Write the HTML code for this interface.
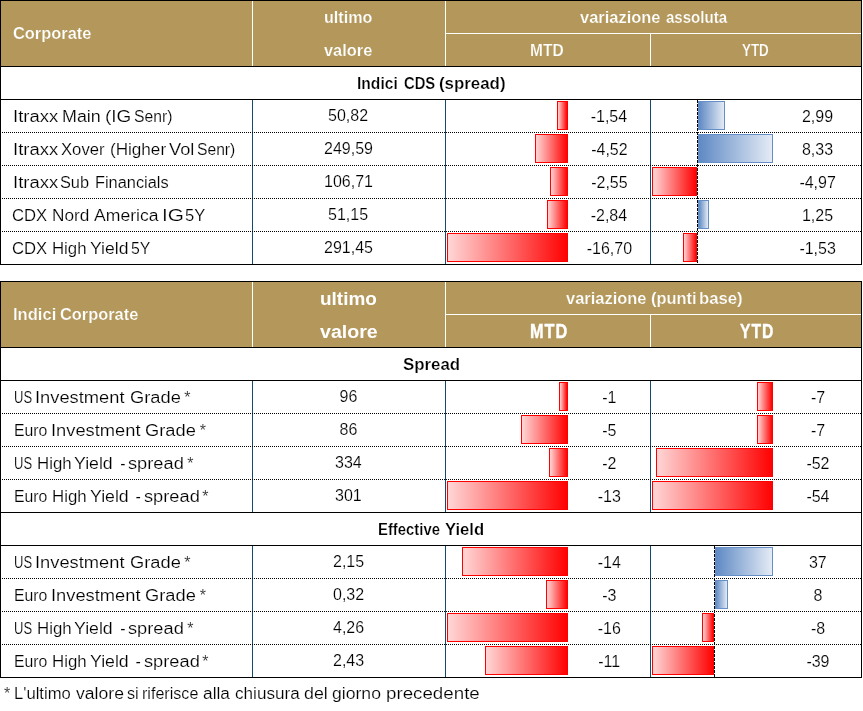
<!DOCTYPE html>
<html lang="it"><head><meta charset="utf-8"><title>Corporate</title>
<style>
html,body{margin:0;padding:0;background:#fff;}
body{width:863px;height:711px;position:relative;overflow:hidden;font-family:"Liberation Sans",sans-serif;}
#s div{position:absolute;}
.hd{height:1px;background:repeating-linear-gradient(90deg,#000 0 1px,transparent 1px 2px);}
.vd{width:1px;background:repeating-linear-gradient(180deg,#000 0 3px,transparent 3px 4px);}
.b{height:27px;border:1px solid;box-sizing:content-box;}
.r{border-color:#ff0000;background:linear-gradient(90deg,#ffd6d6,#ff0202);}
.bl{border-color:#668fc7;background:linear-gradient(90deg,#5f8ac4,#e4ebf5);}
.t{position:absolute;white-space:pre;line-height:30px;color:#000;transform-origin:0 0;}
.n{-webkit-text-stroke:0.18px #fff;}
.bw{-webkit-text-stroke:0.22px #fff;}
.hv{-webkit-text-stroke:0.4px #fff;}
.bg{-webkit-text-stroke:0.22px #b3975b;}
</style></head><body>
<div id="s">
<div style="left:0px;top:0px;width:862px;height:67px;background:#000;"></div>
<div style="left:1px;top:1px;width:860px;height:65px;background:#b3975b;"></div>
<div style="left:252px;top:1px;width:1px;height:65px;background:#fff;"></div>
<div style="left:445px;top:1px;width:1px;height:65px;background:#fff;"></div>
<div style="left:650px;top:33px;width:1px;height:33px;background:#fff;"></div>
<div style="left:446px;top:33px;width:415px;height:1px;background:#fff;"></div>
<div style="left:0px;top:0px;width:1px;height:265px;background:#000;"></div>
<div style="left:861px;top:0px;width:1px;height:265px;background:#000;"></div>
<div style="left:0px;top:264px;width:862px;height:1px;background:#000;"></div>
<div style="left:0px;top:99px;width:862px;height:1px;background:#000;"></div>
<div style="left:252px;top:100px;width:1px;height:164px;background:#134a70;"></div>
<div style="left:445px;top:100px;width:1px;height:164px;background:#134a70;"></div>
<div style="left:650px;top:100px;width:1px;height:164px;background:#134a70;"></div>
<div class="hd" style="left:2px;top:132px;width:859px"></div>
<div class="hd" style="left:2px;top:165px;width:859px"></div>
<div class="hd" style="left:2px;top:198px;width:859px"></div>
<div class="hd" style="left:2px;top:231px;width:859px"></div>
<div class="vd" style="left:697px;top:100px;height:164px"></div>
<div class="b r" style="left:557px;top:101px;width:9px"></div>
<div class="b r" style="left:535px;top:134px;width:31px"></div>
<div class="b r" style="left:550px;top:167px;width:16px"></div>
<div class="b r" style="left:547px;top:200px;width:19px"></div>
<div class="b r" style="left:447px;top:233px;width:119px"></div>
<div class="b bl" style="left:698px;top:101px;width:25px"></div>
<div class="b bl" style="left:698px;top:134px;width:73px"></div>
<div class="b r" style="left:652px;top:167px;width:43px"></div>
<div class="b bl" style="left:698px;top:200px;width:9px"></div>
<div class="b r" style="left:683px;top:233px;width:12px"></div>
<div style="left:0px;top:281px;width:862px;height:67px;background:#000;"></div>
<div style="left:1px;top:282px;width:860px;height:65px;background:#b3975b;"></div>
<div style="left:252px;top:282px;width:1px;height:65px;background:#fff;"></div>
<div style="left:445px;top:282px;width:1px;height:65px;background:#fff;"></div>
<div style="left:650px;top:314px;width:1px;height:33px;background:#fff;"></div>
<div style="left:446px;top:314px;width:415px;height:1px;background:#fff;"></div>
<div style="left:0px;top:281px;width:1px;height:397px;background:#000;"></div>
<div style="left:861px;top:281px;width:1px;height:397px;background:#000;"></div>
<div style="left:0px;top:677px;width:862px;height:1px;background:#000;"></div>
<div style="left:0px;top:380px;width:862px;height:1px;background:#000;"></div>
<div style="left:0px;top:512px;width:862px;height:1px;background:#000;"></div>
<div style="left:0px;top:545px;width:862px;height:1px;background:#000;"></div>
<div style="left:252px;top:381px;width:1px;height:131px;background:#134a70;"></div>
<div style="left:252px;top:546px;width:1px;height:131px;background:#134a70;"></div>
<div style="left:445px;top:381px;width:1px;height:131px;background:#134a70;"></div>
<div style="left:445px;top:546px;width:1px;height:131px;background:#134a70;"></div>
<div style="left:650px;top:381px;width:1px;height:131px;background:#134a70;"></div>
<div style="left:650px;top:546px;width:1px;height:131px;background:#134a70;"></div>
<div class="hd" style="left:2px;top:413px;width:859px"></div>
<div class="hd" style="left:2px;top:446px;width:859px"></div>
<div class="hd" style="left:2px;top:479px;width:859px"></div>
<div class="hd" style="left:2px;top:578px;width:859px"></div>
<div class="hd" style="left:2px;top:611px;width:859px"></div>
<div class="hd" style="left:2px;top:644px;width:859px"></div>
<div class="b r" style="left:559px;top:382px;width:7px"></div>
<div class="b r" style="left:521px;top:415px;width:45px"></div>
<div class="b r" style="left:549px;top:448px;width:17px"></div>
<div class="b r" style="left:447px;top:481px;width:119px"></div>
<div class="b r" style="left:757px;top:382px;width:14px"></div>
<div class="b r" style="left:757px;top:415px;width:14px"></div>
<div class="b r" style="left:656px;top:448px;width:115px"></div>
<div class="b r" style="left:652px;top:481px;width:119px"></div>
<div class="b r" style="left:462px;top:547px;width:104px"></div>
<div class="b r" style="left:546px;top:580px;width:20px"></div>
<div class="b r" style="left:447px;top:613px;width:119px"></div>
<div class="b r" style="left:485px;top:646px;width:81px"></div>
<div class="vd" style="left:714px;top:546px;height:131px"></div>
<div class="b bl" style="left:715px;top:547px;width:56px"></div>
<div class="b bl" style="left:715px;top:580px;width:11px"></div>
<div class="b r" style="left:702px;top:613px;width:10px"></div>
<div class="b r" style="left:652px;top:646px;width:60px"></div>
</div>
<span class="t bg" style="left:13.0px;top:19px;font-size:16px;font-weight:700;transform:scaleX(1.025);color:#fff;">Corporate</span>
<span class="t bg" style="left:324.2px;top:3px;font-size:16px;font-weight:700;transform:scaleX(1.009);color:#fff;">ultimo</span>
<span class="t bg" style="left:324.2px;top:36px;font-size:16px;font-weight:700;transform:scaleX(1.024);color:#fff;">valore</span>
<span class="t bg" style="left:579.6px;top:3px;font-size:16px;font-weight:700;transform:scaleX(1.028);color:#fff;">variazione </span>
<span class="t bg" style="left:665.7px;top:3px;font-size:16px;font-weight:700;transform:scaleX(0.941);color:#fff;">assoluta</span>
<span class="t bg" style="left:530.4px;top:36px;font-size:16px;font-weight:700;transform:scaleX(0.970);color:#fff;">MTD</span>
<span class="t bg" style="left:742.3px;top:36px;font-size:16px;font-weight:700;transform:scaleX(0.835);color:#fff;">YTD</span>
<span class="t bw" style="left:356.6px;top:69px;font-size:16px;font-weight:700;transform:scaleX(0.975);">Indici </span>
<span class="t bw" style="left:403.7px;top:69px;font-size:16px;font-weight:700;transform:scaleX(0.922);">CDS </span>
<span class="t bw" style="left:439.3px;top:69px;font-size:16px;font-weight:700;transform:scaleX(1.054);">(spread)</span>
<span class="t n" style="left:13.0px;top:102px;font-size:16px;transform:scaleX(1.154);">Itraxx </span>
<span class="t n" style="left:61.9px;top:102px;font-size:16px;transform:scaleX(1.118);">Main </span>
<span class="t n" style="left:105.0px;top:102px;font-size:16px;transform:scaleX(1.185);">(IG </span>
<span class="t n" style="left:133.8px;top:102px;font-size:16px;transform:scaleX(0.981);">Senr)</span>
<span class="t n" style="left:328.0px;top:101px;font-size:16px;">50,82</span>
<span class="t n" style="left:590.7px;top:102px;font-size:16px;">-1,54</span>
<span class="t n" style="left:801.9px;top:102px;font-size:16px;">2,99</span>
<span class="t n" style="left:13.0px;top:135px;font-size:16px;transform:scaleX(1.154);">Itraxx </span>
<span class="t n" style="left:60.8px;top:135px;font-size:16px;transform:scaleX(1.042);">Xover </span>
<span class="t n" style="left:109.9px;top:135px;font-size:16px;transform:scaleX(1.069);">(Higher </span>
<span class="t n" style="left:169.2px;top:135px;font-size:16px;transform:scaleX(1.139);">Vol </span>
<span class="t n" style="left:196.8px;top:135px;font-size:16px;transform:scaleX(0.979);">Senr)</span>
<span class="t n" style="left:324.0px;top:134px;font-size:16px;">249,59</span>
<span class="t n" style="left:591.2px;top:135px;font-size:16px;">-4,52</span>
<span class="t n" style="left:801.9px;top:135px;font-size:16px;">8,33</span>
<span class="t n" style="left:13.0px;top:168px;font-size:16px;transform:scaleX(1.154);">Itraxx </span>
<span class="t n" style="left:60.4px;top:168px;font-size:16px;transform:scaleX(1.019);">Sub </span>
<span class="t n" style="left:95.2px;top:168px;font-size:16px;transform:scaleX(1.022);">Financials</span>
<span class="t n" style="left:324.0px;top:167px;font-size:16px;">106,71</span>
<span class="t n" style="left:591.2px;top:168px;font-size:16px;">-2,55</span>
<span class="t n" style="left:799.4px;top:168px;font-size:16px;">-4,97</span>
<span class="t n" style="left:12.4px;top:201px;font-size:16px;transform:scaleX(1.041);">CDX </span>
<span class="t n" style="left:51.7px;top:201px;font-size:16px;transform:scaleX(1.076);">Nord </span>
<span class="t n" style="left:93.8px;top:201px;font-size:16px;transform:scaleX(1.100);">America </span>
<span class="t n" style="left:162.4px;top:201px;font-size:16px;transform:scaleX(1.301);">IG </span>
<span class="t n" style="left:185.4px;top:201px;font-size:16px;transform:scaleX(1.034);">5Y</span>
<span class="t n" style="left:328.0px;top:200px;font-size:16px;">51,15</span>
<span class="t n" style="left:590.7px;top:201px;font-size:16px;">-2,84</span>
<span class="t n" style="left:801.9px;top:201px;font-size:16px;">1,25</span>
<span class="t n" style="left:12.4px;top:234px;font-size:16px;transform:scaleX(1.041);">CDX </span>
<span class="t n" style="left:51.7px;top:234px;font-size:16px;transform:scaleX(1.049);">High </span>
<span class="t n" style="left:89.7px;top:234px;font-size:16px;transform:scaleX(1.100);">Yield </span>
<span class="t n" style="left:130.6px;top:234px;font-size:16px;transform:scaleX(0.990);">5Y</span>
<span class="t n" style="left:324.0px;top:233px;font-size:16px;">291,45</span>
<span class="t n" style="left:586.7px;top:234px;font-size:16px;">-16,70</span>
<span class="t n" style="left:799.4px;top:234px;font-size:16px;">-1,53</span>
<span class="t bg" style="left:13.2px;top:300px;font-size:16px;font-weight:700;transform:scaleX(1.035);color:#fff;">Indici </span>
<span class="t bg" style="left:59.8px;top:300px;font-size:16px;font-weight:700;transform:scaleX(1.024);color:#fff;">Corporate</span>
<span class="t" style="left:320.4px;top:284px;font-size:18.67px;font-weight:700;transform:scaleX(1.017);color:#fff;">ultimo</span>
<span class="t" style="left:320.0px;top:317px;font-size:18.67px;font-weight:700;transform:scaleX(1.050);color:#fff;">valore</span>
<span class="t bg" style="left:565.6px;top:284px;font-size:16px;font-weight:700;transform:scaleX(1.028);color:#fff;">variazione </span>
<span class="t bg" style="left:650.6px;top:284px;font-size:16px;font-weight:700;transform:scaleX(1.024);color:#fff;">(punti </span>
<span class="t bg" style="left:699.0px;top:284px;font-size:16px;font-weight:700;transform:scaleX(1.045);color:#fff;">base)</span>
<span class="t hv" style="left:529.6px;top:316px;font-size:19.5px;font-weight:700;letter-spacing:1.20px;transform:scaleX(0.837);color:#fff;">MTD</span>
<span class="t hv" style="left:740.0px;top:316px;font-size:19.5px;font-weight:700;letter-spacing:1.20px;transform:scaleX(0.805);color:#fff;">YTD</span>
<span class="t bw" style="left:402.5px;top:350px;font-size:16px;font-weight:700;transform:scaleX(1.054);">Spread</span>
<span class="t bw" style="left:378.1px;top:515px;font-size:16px;font-weight:700;transform:scaleX(0.928);">Effective </span>
<span class="t bw" style="left:444.8px;top:515px;font-size:16px;font-weight:700;transform:scaleX(1.040);">Yield</span>
<span class="t n" style="left:14.2px;top:383px;font-size:16px;transform:scaleX(0.812);">US </span>
<span class="t n" style="left:35.1px;top:383px;font-size:16px;transform:scaleX(1.144);">Investment </span>
<span class="t n" style="left:129.6px;top:383px;font-size:16px;transform:scaleX(1.144);">Grade </span>
<span class="t n" style="left:184.3px;top:383px;font-size:16px;">*</span>
<span class="t n" style="left:339.5px;top:382px;font-size:16px;">96</span>
<span class="t n" style="left:602.2px;top:383px;font-size:16px;">-1</span>
<span class="t n" style="left:810.9px;top:383px;font-size:16px;">-7</span>
<span class="t n" style="left:14.0px;top:416px;font-size:16px;transform:scaleX(0.989);">Euro </span>
<span class="t n" style="left:50.5px;top:416px;font-size:16px;transform:scaleX(1.144);">Investment </span>
<span class="t n" style="left:145.0px;top:416px;font-size:16px;transform:scaleX(1.144);">Grade </span>
<span class="t n" style="left:199.7px;top:416px;font-size:16px;">*</span>
<span class="t n" style="left:339.5px;top:415px;font-size:16px;">86</span>
<span class="t n" style="left:602.2px;top:416px;font-size:16px;">-5</span>
<span class="t n" style="left:810.9px;top:416px;font-size:16px;">-7</span>
<span class="t n" style="left:14.2px;top:449px;font-size:16px;transform:scaleX(0.812);">US </span>
<span class="t n" style="left:37.1px;top:449px;font-size:16px;transform:scaleX(1.052);">High </span>
<span class="t n" style="left:74.3px;top:449px;font-size:16px;transform:scaleX(1.106);">Yield  </span>
<span class="t n" style="left:120.2px;top:449px;font-size:16px;">- </span>
<span class="t n" style="left:128.3px;top:449px;font-size:16px;transform:scaleX(1.140);">spread </span>
<span class="t n" style="left:187.3px;top:449px;font-size:16px;">*</span>
<span class="t n" style="left:335.0px;top:448px;font-size:16px;">334</span>
<span class="t n" style="left:602.2px;top:449px;font-size:16px;">-2</span>
<span class="t n" style="left:806.4px;top:449px;font-size:16px;">-52</span>
<span class="t n" style="left:14.0px;top:482px;font-size:16px;transform:scaleX(0.989);">Euro </span>
<span class="t n" style="left:51.5px;top:482px;font-size:16px;transform:scaleX(1.052);">High </span>
<span class="t n" style="left:89.7px;top:482px;font-size:16px;transform:scaleX(1.106);">Yield  </span>
<span class="t n" style="left:135.6px;top:482px;font-size:16px;">- </span>
<span class="t n" style="left:143.7px;top:482px;font-size:16px;transform:scaleX(1.140);">spread </span>
<span class="t n" style="left:202.2px;top:482px;font-size:16px;">*</span>
<span class="t n" style="left:335.0px;top:481px;font-size:16px;">301</span>
<span class="t n" style="left:597.7px;top:482px;font-size:16px;">-13</span>
<span class="t n" style="left:806.4px;top:482px;font-size:16px;">-54</span>
<span class="t n" style="left:14.2px;top:548px;font-size:16px;transform:scaleX(0.812);">US </span>
<span class="t n" style="left:35.1px;top:548px;font-size:16px;transform:scaleX(1.144);">Investment </span>
<span class="t n" style="left:129.6px;top:548px;font-size:16px;transform:scaleX(1.144);">Grade </span>
<span class="t n" style="left:184.3px;top:548px;font-size:16px;">*</span>
<span class="t n" style="left:333.0px;top:547px;font-size:16px;">2,15</span>
<span class="t n" style="left:597.7px;top:548px;font-size:16px;">-14</span>
<span class="t n" style="left:808.9px;top:548px;font-size:16px;">37</span>
<span class="t n" style="left:14.0px;top:581px;font-size:16px;transform:scaleX(0.989);">Euro </span>
<span class="t n" style="left:50.5px;top:581px;font-size:16px;transform:scaleX(1.144);">Investment </span>
<span class="t n" style="left:145.0px;top:581px;font-size:16px;transform:scaleX(1.144);">Grade </span>
<span class="t n" style="left:199.7px;top:581px;font-size:16px;">*</span>
<span class="t n" style="left:333.0px;top:580px;font-size:16px;">0,32</span>
<span class="t n" style="left:602.2px;top:581px;font-size:16px;">-3</span>
<span class="t n" style="left:813.4px;top:581px;font-size:16px;">8</span>
<span class="t n" style="left:14.2px;top:614px;font-size:16px;transform:scaleX(0.812);">US </span>
<span class="t n" style="left:37.1px;top:614px;font-size:16px;transform:scaleX(1.052);">High </span>
<span class="t n" style="left:74.3px;top:614px;font-size:16px;transform:scaleX(1.106);">Yield  </span>
<span class="t n" style="left:120.2px;top:614px;font-size:16px;">- </span>
<span class="t n" style="left:128.3px;top:614px;font-size:16px;transform:scaleX(1.140);">spread </span>
<span class="t n" style="left:187.3px;top:614px;font-size:16px;">*</span>
<span class="t n" style="left:333.0px;top:613px;font-size:16px;">4,26</span>
<span class="t n" style="left:597.7px;top:614px;font-size:16px;">-16</span>
<span class="t n" style="left:810.9px;top:614px;font-size:16px;">-8</span>
<span class="t n" style="left:14.0px;top:647px;font-size:16px;transform:scaleX(0.989);">Euro </span>
<span class="t n" style="left:51.5px;top:647px;font-size:16px;transform:scaleX(1.052);">High </span>
<span class="t n" style="left:89.7px;top:647px;font-size:16px;transform:scaleX(1.106);">Yield  </span>
<span class="t n" style="left:135.6px;top:647px;font-size:16px;">- </span>
<span class="t n" style="left:143.7px;top:647px;font-size:16px;transform:scaleX(1.140);">spread </span>
<span class="t n" style="left:202.2px;top:647px;font-size:16px;">*</span>
<span class="t n" style="left:333.0px;top:646px;font-size:16px;">2,43</span>
<span class="t n" style="left:598.2px;top:647px;font-size:16px;">-11</span>
<span class="t n" style="left:806.4px;top:647px;font-size:16px;">-39</span>
<span class="t n" style="left:4.0px;top:679px;font-size:16px;">* </span>
<span class="t n" style="left:14.4px;top:679px;font-size:16px;transform:scaleX(1.038);">L'ultimo </span>
<span class="t n" style="left:76.2px;top:679px;font-size:16px;transform:scaleX(1.100);">valore </span>
<span class="t n" style="left:127.1px;top:679px;font-size:16px;transform:scaleX(1.012);">si </span>
<span class="t n" style="left:142.0px;top:679px;font-size:16px;transform:scaleX(1.006);">riferisce </span>
<span class="t n" style="left:202.7px;top:679px;font-size:16px;transform:scaleX(1.083);">alla </span>
<span class="t n" style="left:235.1px;top:679px;font-size:16px;transform:scaleX(1.071);">chiusura </span>
<span class="t n" style="left:303.9px;top:679px;font-size:16px;transform:scaleX(1.111);">del </span>
<span class="t n" style="left:332.3px;top:679px;font-size:16px;transform:scaleX(1.100);">giorno </span>
<span class="t n" style="left:385.6px;top:679px;font-size:16px;transform:scaleX(1.171);">precedente</span>
</body></html>
